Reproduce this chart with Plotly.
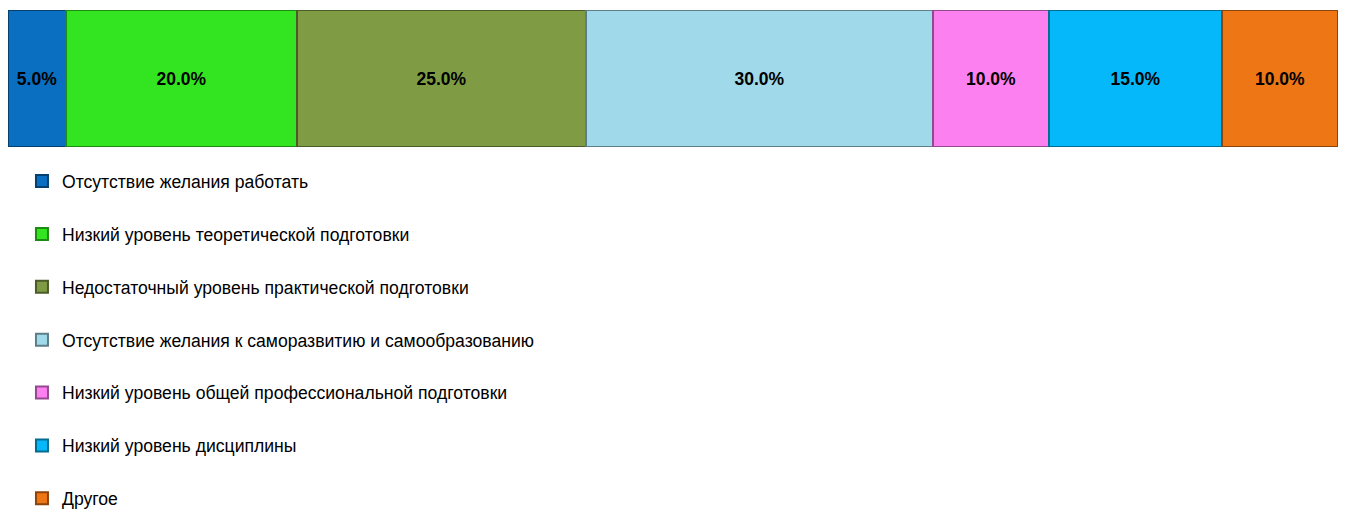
import plotly.graph_objects as go

categories = ["Отсутствие желания работать",
              "Низкий уровень теоретической подготовки",
              "Недостаточный уровень практической подготовки",
              "Отсутствие желания к саморазвитию и самообразованию",
              "Низкий уровень общей профессиональной подготовки",
              "Низкий уровень дисциплины",
              "Другое"]
values = [5.0, 20.0, 25.0, 30.0, 10.0, 15.0, 10.0]
colors = ["#0A6FC0", "#33E520", "#7F9C44", "#A0D9E9", "#FD80F1", "#04B8F9", "#EF7615"]
edge = ["#06406E", "#1D8A12", "#4A5B27", "#5D7E88", "#93498C", "#026C92", "#8A440C"]

fig = go.Figure()
for i, (c, v) in enumerate(zip(categories, values)):
    fig.add_trace(go.Bar(
        y=[""], x=[v], name=c, orientation="h",
        marker=dict(color=colors[i], line=dict(color=edge[i], width=2)),
        text=[f"{v:.1f}%"], textposition="inside", insidetextanchor="middle",
        textfont=dict(family="Liberation Sans, Arial", size=17.5, color="black", weight="bold"),
        legendgroup=f"g{i}",
    ))

fig.update_layout(
    barmode="stack", bargap=0,
    width=1330, height=502,
    margin=dict(l=0, r=0, t=2, b=363, autoexpand=False),
    plot_bgcolor="white", paper_bgcolor="white",
    xaxis=dict(visible=False, range=[0, sum(values)]),
    yaxis=dict(visible=False),
    showlegend=True,
    legend=dict(orientation="v", x=0.0105, xanchor="left",
                yref="container", y=0.691, yanchor="top",
                traceorder="grouped", tracegroupgap=27, maxheight=700,
                font=dict(family="Liberation Sans, Arial", size=17.6, color="black"),
                itemwidth=30),
    uniformtext=dict(mode="show", minsize=10),
)
fig.write_html("out.html")
